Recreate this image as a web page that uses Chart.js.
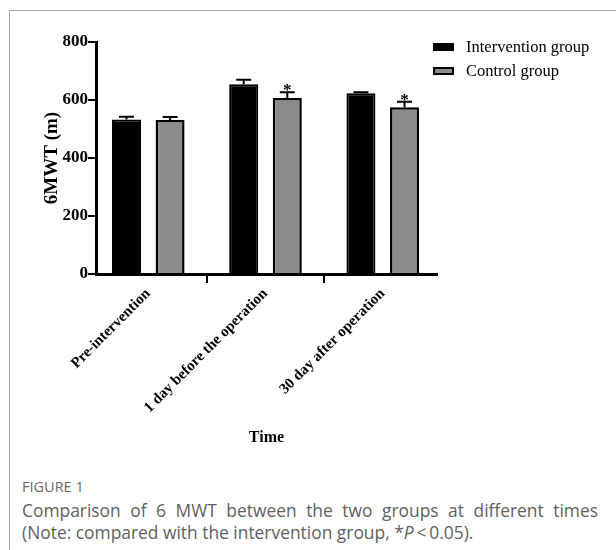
<!DOCTYPE html>
<html>
<head>
<meta charset="utf-8">
<script src="https://cdn.jsdelivr.net/npm/chart.js@4.4.0/dist/chart.umd.min.js"></script>
<style>
  html, body { margin: 0; padding: 0; background: #fff; }
  body { width: 616px; height: 550px; position: relative; overflow: hidden; }
  #frame { position: absolute; left: 9px; top: 10px; width: 620px; height: 560px;
           border-left: 1px solid #a8a8a8; border-top: 1px solid #a8a8a8; }
  #c { position: absolute; left: 0; top: 0; }
  #figlabel { position: absolute; left: 22px; top: 477px; font: 14.5px/19px 'Open Sans', sans-serif; color: #6a6a6a; }
  #caption { position: absolute; left: 22px; top: 499px; width: 576px; font: 17.4px/22px 'Open Sans', sans-serif; color: #5f5f5f; }
  #caption .l1 { text-align: justify; text-align-last: justify; white-space: nowrap; }
</style>
</head>
<body>
<div id="frame"></div>
<canvas id="c" width="616" height="451"></canvas>
<div id="figlabel">FIGURE 1</div>
<div id="caption">
  <div class="l1">Comparison of 6 MWT between the two groups at different times</div>
  <div>(Note: compared with the intervention group, *<i>P</i>&thinsp;&lt;&thinsp;0.05).</div>
</div>
<script>
// ---- data ----
const categories = ['Pre-intervention', '1 day before the operation', '30 day after operation'];
const seriesNames = ['Intervention group', 'Control group'];
const interventionMean = [533, 654, 623];
const interventionErr  = [9, 16, 4];
const controlMean      = [531, 607, 575];
const controlErr       = [10, 20, 19];
const controlSig       = [false, true, true];
const yTicks           = [0, 200, 400, 600, 800];

const SERIF = "'Liberation Serif', 'Times New Roman', serif";

function toPoints(vals) { return vals.map((v, i) => ({ x: i, y: v })); }

const errorBarPlugin = {
  id: 'errorBars',
  afterDatasetsDraw(chart) {
    const ctx = chart.ctx;
    const yScale = chart.scales.y;
    chart.data.datasets.forEach((ds, di) => {
      const meta = chart.getDatasetMeta(di);
      meta.data.forEach((bar, i) => {
        const mean = ds.data[i].y;
        const err = ds.errors[i];
        const yTop = yScale.getPixelForValue(mean + err);
        ctx.save();
        ctx.strokeStyle = '#000';
        ctx.lineWidth = 2;
        ctx.beginPath();
        ctx.moveTo(bar.x, bar.y);
        ctx.lineTo(bar.x, yTop);
        ctx.moveTo(bar.x - 7.5, yTop);
        ctx.lineTo(bar.x + 7.5, yTop);
        ctx.stroke();
        if (ds.sig && ds.sig[i]) {
          ctx.fillStyle = '#000';
          ctx.font = 'bold 17px ' + SERIF;
          ctx.textAlign = 'center';
          ctx.textBaseline = 'alphabetic';
          ctx.fillText('*', bar.x, yTop + 3);
        }
        ctx.restore();
      });
    });
  }
};

const legendPlugin = {
  id: 'customLegend',
  afterDraw(chart) {
    const ctx = chart.ctx;
    const x0 = 433, y0 = 47, gap = 24;
    chart.data.datasets.forEach((ds, i) => {
      const yc = y0 + i * gap;
      ctx.save();
      ctx.fillStyle = ds.backgroundColor;
      ctx.fillRect(x0, yc - 4, 21, 8);
      ctx.strokeStyle = '#000';
      ctx.lineWidth = 2;
      ctx.strokeRect(x0 + 1, yc - 3, 19, 6);
      ctx.fillStyle = '#000';
      ctx.font = '16.5px ' + SERIF;
      ctx.textAlign = 'left';
      ctx.textBaseline = 'middle';
      ctx.fillText(ds.label, 466, yc + 1);
      ctx.restore();
    });
  }
};

new Chart(document.getElementById('c'), {
  type: 'bar',
  data: {
    datasets: [
      {
        label: seriesNames[0],
        data: toPoints(interventionMean),
        errors: interventionErr,
        backgroundColor: '#000000',
        borderColor: '#000000',
        borderWidth: 2
      },
      {
        label: seriesNames[1],
        data: toPoints(controlMean),
        errors: controlErr,
        sig: controlSig,
        backgroundColor: '#8b8b8b',
        borderColor: '#000000',
        borderWidth: 2.5
      }
    ]
  },
  options: {
    responsive: false,
    devicePixelRatio: 1,
    animation: false,
    categoryPercentage: 0.744,
    barPercentage: 0.665,
    layout: { padding: { top: 42, right: 179, left: 0, bottom: 0 } },
    plugins: { legend: { display: false }, tooltip: { enabled: false } },
    scales: {
      x: {
        type: 'linear',
        min: -0.446,
        max: 2.463,
        offset: false,
        afterFit(s) { s.height = 177; },
        afterBuildTicks(s) { s.ticks = categories.map((c, i) => ({ value: i })); },
        ticks: {
          stepSize: 1,
          includeBounds: false,
          autoSkip: false,
          minRotation: 45,
          maxRotation: 45,
          padding: 2,
          color: '#000',
          font: { family: SERIF, size: 15, weight: 'bold' },
          callback: (v) => categories[v]
        },
        grid: { drawOnChartArea: false, drawTicks: true, tickLength: 9, color: '#000', lineWidth: 2 },
        border: { display: true, color: '#000', width: 3 },
        title: {
          display: true, text: 'Time', color: '#000',
          font: { family: SERIF, size: 16, weight: 'bold' },
          padding: { top: 4, bottom: 4 }
        }
      },
      y: {
        min: 0,
        max: 800,
        afterFit(s) { s.width = 96; },
        afterBuildTicks(s) { s.ticks = yTicks.map(v => ({ value: v })); },
        ticks: {
          color: '#000',
          padding: 0,
          font: { family: SERIF, size: 17, weight: 'bold' }
        },
        grid: { drawOnChartArea: false, drawTicks: true, tickLength: 8, color: '#000', lineWidth: 2 },
        border: { display: true, color: '#000', width: 3 },
        title: {
          display: true, text: '6MWT (m)', color: '#000',
          font: { family: SERIF, size: 19, weight: 'bold' },
          padding: { top: 40.6, bottom: 0 }
        }
      }
    }
  },
  plugins: [errorBarPlugin, legendPlugin]
});
</script>
</body>
</html>
